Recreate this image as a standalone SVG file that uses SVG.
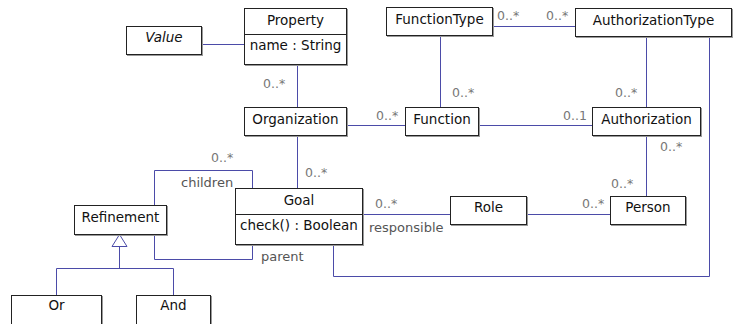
<svg xmlns="http://www.w3.org/2000/svg" width="735" height="324" viewBox="0 0 735 324">
<style>
  .bg { fill: #ffffff; }
  .sh { fill: none; stroke: #9a9a9a; stroke-width: 1; }
  .box { fill: #ffffff; stroke: #222222; stroke-width: 1; }
  .div { stroke: #222222; stroke-width: 1; }
  .t { font-family: "DejaVu Sans", "Liberation Sans", sans-serif; font-size: 13.5px; fill: #111111; text-anchor: middle; }
  .it { font-style: italic; }
  .c { fill: none; stroke: #4b4ba8; stroke-width: 1; }
  .m { font-family: "DejaVu Sans", "Liberation Sans", sans-serif; font-size: 12.5px; fill: #777777; }
  .r { font-family: "DejaVu Sans", "Liberation Sans", sans-serif; font-size: 13px; fill: #555555; }
  .tri { fill: #ffffff; stroke: #4b4ba8; stroke-width: 1; }
</style>
<rect class="bg" x="0" y="0" width="735" height="324"/>

<g id="connectors">
  <path class="c" d="M201.5 44.5 H244.5"/>
  <path class="c" d="M297.5 64.5 V107.5"/>
  <path class="c" d="M346.5 125.5 H405.5"/>
  <path class="c" d="M478.5 125.5 H592.5"/>
  <path class="c" d="M440.5 35.5 V107.5"/>
  <path class="c" d="M492.5 26.5 H575.5"/>
  <path class="c" d="M646.5 36.5 V107.5"/>
  <path class="c" d="M646.5 135.5 V196.5"/>
  <path class="c" d="M709.5 36.5 V276.5 H333.5 V244.5"/>
  <path class="c" d="M297.5 135.5 V188.5"/>
  <path class="c" d="M154.5 205.5 V170.5 H252.5 V188.5"/>
  <path class="c" d="M154.5 234.5 V259.5 H252.5 V244.5"/>
  <path class="c" d="M362.5 214.5 H450.5"/>
  <path class="c" d="M526.5 214.5 H610.5"/>
  <path class="c" d="M119.5 246.5 V268.5"/>
  <path class="c" d="M56.5 295.5 V268.5 H173.5 V295.5"/>
  <path class="tri" d="M119.5 234.5 L127 246.5 H112 Z"/>
  <text class="m" x="263" y="87.5">0..*</text>
  <text class="m" x="497" y="19.5">0..*</text>
  <text class="m" x="546" y="19.5">0..*</text>
  <text class="m" x="452" y="96.5">0..*</text>
  <text class="m" x="376" y="119.5">0..*</text>
  <text class="m" x="563" y="120">0..1</text>
  <text class="m" x="615" y="96.5">0..*</text>
  <text class="m" x="660" y="151">0..*</text>
  <text class="m" x="611" y="188">0..*</text>
  <text class="m" x="582" y="208">0..*</text>
  <text class="m" x="375" y="208">0..*</text>
  <text class="m" x="211" y="161.5">0..*</text>
  <text class="m" x="305" y="176.5">0..*</text>
  <text class="r" x="369" y="231.5">responsible</text>
  <text class="r" x="181" y="186.5">children</text>
  <text class="r" x="261" y="260.5">parent</text>
</g>

<g id="Value">
  <rect class="sh" x="127.5" y="27.5" width="75" height="28"/>
  <rect class="box" x="126.5" y="26.5" width="75" height="28"/>
  <text class="t it" x="164" y="42">Value</text>
</g>
<g id="Property">
  <rect class="sh" x="245.5" y="9.5" width="102" height="56"/>
  <rect class="box" x="244.5" y="8.5" width="102" height="56"/>
  <line class="div" x1="244.5" y1="34.5" x2="346.5" y2="34.5"/>
  <text class="t" x="295.5" y="24.5">Property</text>
  <text class="t" x="295.5" y="49.5">name : String</text>
</g>
<g id="FunctionType">
  <rect class="sh" x="387.5" y="8.5" width="106" height="28"/>
  <rect class="box" x="386.5" y="7.5" width="106" height="28"/>
  <text class="t" x="439.5" y="23.5">FunctionType</text>
</g>
<g id="AuthorizationType">
  <rect class="sh" x="576.5" y="9.5" width="156" height="28"/>
  <rect class="box" x="575.5" y="8.5" width="156" height="28"/>
  <text class="t" x="653.5" y="24.5">AuthorizationType</text>
</g>
<g id="Organization">
  <rect class="sh" x="245.5" y="108.5" width="102" height="28"/>
  <rect class="box" x="244.5" y="107.5" width="102" height="28"/>
  <text class="t" x="295.5" y="124">Organization</text>
</g>
<g id="Function">
  <rect class="sh" x="406.5" y="108.5" width="73" height="28"/>
  <rect class="box" x="405.5" y="107.5" width="73" height="28"/>
  <text class="t" x="442" y="124">Function</text>
</g>
<g id="Authorization">
  <rect class="sh" x="593.5" y="108.5" width="108" height="28"/>
  <rect class="box" x="592.5" y="107.5" width="108" height="28"/>
  <text class="t" x="646.5" y="124">Authorization</text>
</g>
<g id="Goal">
  <rect class="sh" x="236.5" y="189.5" width="127" height="56"/>
  <rect class="box" x="235.5" y="188.5" width="127" height="56"/>
  <line class="div" x1="235.5" y1="214.5" x2="362.5" y2="214.5"/>
  <text class="t" x="299" y="204.5">Goal</text>
  <text class="t" x="299" y="229.5">check() : Boolean</text>
</g>
<g id="Refinement">
  <rect class="sh" x="75.5" y="206.5" width="92" height="29"/>
  <rect class="box" x="74.5" y="205.5" width="92" height="29"/>
  <text class="t" x="120.5" y="221.5">Refinement</text>
</g>
<g id="Role">
  <rect class="sh" x="451.5" y="197.5" width="76" height="28"/>
  <rect class="box" x="450.5" y="196.5" width="76" height="28"/>
  <text class="t" x="488.5" y="212">Role</text>
</g>
<g id="Person">
  <rect class="sh" x="611.5" y="197.5" width="75" height="28"/>
  <rect class="box" x="610.5" y="196.5" width="75" height="28"/>
  <text class="t" x="648" y="212">Person</text>
</g>
<g id="Or">
  <rect class="sh" x="12.5" y="296.5" width="90" height="30"/>
  <rect class="box" x="11.5" y="295.5" width="90" height="30"/>
  <text class="t" x="56.5" y="310">Or</text>
</g>
<g id="And">
  <rect class="sh" x="137.5" y="296.5" width="74" height="30"/>
  <rect class="box" x="136.5" y="295.5" width="74" height="30"/>
  <text class="t" x="173.5" y="310">And</text>
</g>
</svg>
